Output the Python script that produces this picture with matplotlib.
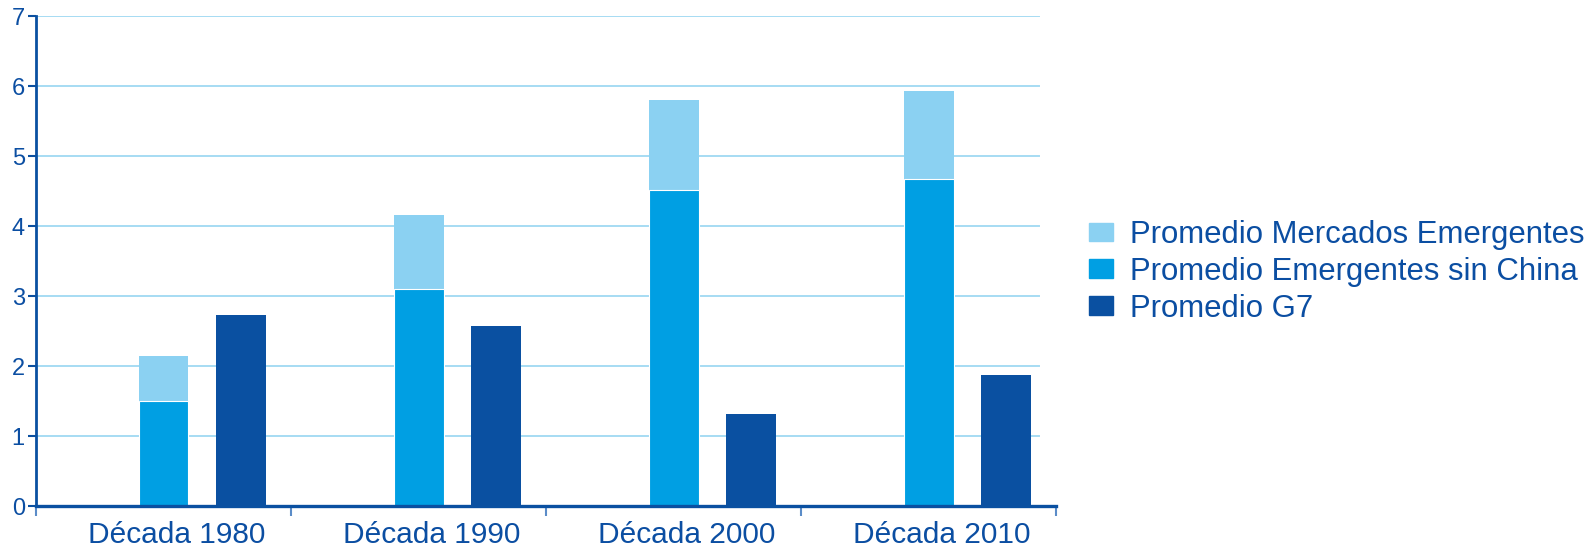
import numpy as np
import matplotlib.pyplot as plt
from matplotlib.patches import Patch

plt.rcParams['font.family'] = ['Liberation Sans', 'DejaVu Sans']

decades = ['Década 1980', 'Década 1990', 'Década 2000', 'Década 2010']
emergentes = [2.14, 4.16, 5.80, 5.93]
emergentes_sin_china = [1.50, 3.10, 4.51, 4.67]
g7 = [2.73, 2.57, 1.32, 1.87]

c_light = '#8BD1F2'
c_mid = '#009FE3'
c_dark = '#0A50A1'
c_text = '#0B4EA2'
c_grid = '#A6DCF3'

fig = plt.figure(figsize=(15.92, 5.49), dpi=100)
ax = fig.add_axes([0.0226, 0.0783, 0.6408, 0.8925])

x = np.arange(len(decades))
w = 0.196
ax.bar(x, emergentes, w, color=c_light, zorder=2)
ax.bar(x, emergentes_sin_china, w, color=c_mid, edgecolor='white', linewidth=0.8, zorder=3)
ax.bar(x + 0.305, g7, w, color=c_dark, zorder=3)

ax.set_xlim(-0.5, 3.5)
ax.set_ylim(0, 7)
for v in range(1, 8):
    ax.axhline(v, xmin=0, xmax=0.983, color=c_grid, linewidth=1.4, zorder=1)

ax.set_yticks(range(8))
# labels sit a little right of the category centre in the original
ax.set_xticks(x + 0.05)
ax.set_xticklabels(decades)
ax.set_xticks(np.arange(-0.5, 4.0, 1.0), minor=True)
ax.tick_params(axis='x', which='major', length=0, pad=11, labelsize=21.5, labelcolor=c_text)
ax.tick_params(axis='x', which='minor', length=7, width=1.5, color='#5B8CC8', direction='out')
ax.tick_params(axis='y', length=6, width=1.5, color=c_dark, pad=2, labelsize=17, labelcolor=c_text)

for s in ['top', 'right']:
    ax.spines[s].set_visible(False)
ax.spines['left'].set_color(c_dark)
ax.spines['left'].set_linewidth(2.0)
ax.spines['bottom'].set_color(c_dark)
ax.spines['bottom'].set_linewidth(2.4)
ax.spines['bottom'].set_zorder(4)

handles = [Patch(color=c_light), Patch(color=c_mid), Patch(color=c_dark)]
labels = ['Promedio Mercados Emergentes', 'Promedio Emergentes sin China', 'Promedio G7']
leg = fig.legend(handles, labels, loc='center left', bbox_to_anchor=(0.684, 0.505),
                 frameon=False, fontsize=22.4, borderpad=0, borderaxespad=0,
                 handlelength=0.76, handleheight=0.55, handletextpad=0.55,
                 labelspacing=0.22)
for t in leg.get_texts():
    t.set_color(c_text)

fig.savefig('out.png', dpi=100)
